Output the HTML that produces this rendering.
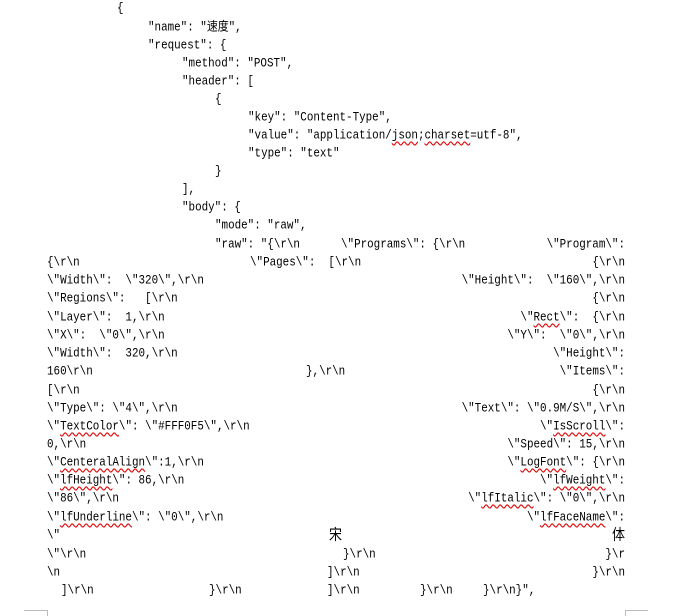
<!DOCTYPE html>
<html><head><meta charset="utf-8"><style>
html,body{margin:0;padding:0;background:#fff;}
body{width:696px;height:616px;position:relative;overflow:hidden;font-family:"Liberation Mono","Noto Sans CJK SC",monospace;font-size:10.9px;color:#000;}
.l{position:absolute;white-space:pre;line-height:14px;transform:scaleY(1.15);transform-origin:left center;}
.r{position:absolute;white-space:pre;line-height:14px;right:71px;text-align:right;transform:scaleY(1.15);transform-origin:right center;}
u{text-decoration:underline wavy #e00000;text-decoration-thickness:1px;text-underline-offset:2px;}
.c{position:absolute;background:#bbb;}
</style></head><body>
<div class="l" style="left:117px;top:2px">{</div>
<div class="l" style="left:148px;top:21px">"name": "速度",</div>
<div class="l" style="left:148px;top:39px">"request": {</div>
<div class="l" style="left:182px;top:57px">"method": "POST",</div>
<div class="l" style="left:182px;top:75px">"header": [</div>
<div class="l" style="left:215px;top:93px">{</div>
<div class="l" style="left:248px;top:111px">"key": "Content-Type",</div>
<div class="l" style="left:248px;top:129px">"value": "application/<u>json</u>;<u>charset</u>=utf-8",</div>
<div class="l" style="left:248px;top:147px">"type": "text"</div>
<div class="l" style="left:215px;top:165px">}</div>
<div class="l" style="left:182px;top:183px">],</div>
<div class="l" style="left:182px;top:201px">"body": {</div>
<div class="l" style="left:215px;top:219px">"mode": "raw",</div>
<div class="l" style="left:215px;top:238px">"raw": "{\r\n</div>
<div class="l" style="left:341px;top:238px">\"Programs\": {\r\n</div>
<div class="r" style="top:238px">\"Program\":</div>

<div class="l" style="left:47px;top:256px">{\r\n</div>
<div class="l" style="left:250px;top:256px">\"Pages\":  [\r\n</div>
<div class="r" style="top:256px">{\r\n</div>

<div class="l" style="left:47px;top:274px">\"Width\":  \"320\",\r\n</div>
<div class="r" style="top:274px">\"Height\":  \"160\",\r\n</div>

<div class="l" style="left:47px;top:292px">\"Regions\":   [\r\n</div>
<div class="r" style="top:292px">{\r\n</div>

<div class="l" style="left:47px;top:311px">\"Layer\":  1,\r\n</div>
<div class="r" style="top:311px">\"<u>Rect</u>\":  {\r\n</div>

<div class="l" style="left:47px;top:329px">\"X\":  \"0\",\r\n</div>
<div class="r" style="top:329px">\"Y\":  \"0\",\r\n</div>

<div class="l" style="left:47px;top:347px">\"Width\":  320,\r\n</div>
<div class="r" style="top:347px">\"Height\":</div>

<div class="l" style="left:47px;top:365px">160\r\n</div>
<div class="l" style="left:306px;top:365px">},\r\n</div>
<div class="r" style="top:365px">\"Items\":</div>

<div class="l" style="left:47px;top:384px">[\r\n</div>
<div class="r" style="top:384px">{\r\n</div>

<div class="l" style="left:47px;top:402px">\"Type\": \"4\",\r\n</div>
<div class="r" style="top:402px">\"Text\": \"0.9M/S\",\r\n</div>

<div class="l" style="left:47px;top:420px">\"<u>TextColor</u>\": \"#FFF0F5\",\r\n</div>
<div class="r" style="top:420px">\"<u>IsScroll</u>\":</div>

<div class="l" style="left:47px;top:438px">0,\r\n</div>
<div class="r" style="top:438px">\"Speed\": 15,\r\n</div>

<div class="l" style="left:47px;top:456px">\"<u>CenteralAlign</u>\":1,\r\n</div>
<div class="r" style="top:456px">\"<u>LogFont</u>\": {\r\n</div>

<div class="l" style="left:47px;top:474px">\"<u>lfHeight</u>\": 86,\r\n</div>
<div class="r" style="top:474px">\"<u>lfWeight</u>\":</div>

<div class="l" style="left:47px;top:492px">\"86\",\r\n</div>
<div class="r" style="top:492px">\"<u>lfItalic</u>\": \"0\",\r\n</div>

<div class="l" style="left:47px;top:511px">\"<u>lfUnderline</u>\": \"0\",\r\n</div>
<div class="r" style="top:511px">\"<u>lfFaceName</u>\":</div>

<div class="l" style="left:47px;top:529px">\"</div>
<div class="l" style="left:329px;top:529px;font-size:13px">宋</div>
<div class="r" style="top:529px;font-size:13px">体</div>

<div class="l" style="left:47px;top:548px">\"\r\n</div>
<div class="l" style="left:343px;top:548px">}\r\n</div>
<div class="r" style="top:548px">}\r</div>

<div class="l" style="left:47px;top:566px">\n</div>
<div class="l" style="left:327px;top:566px">]\r\n</div>
<div class="r" style="top:566px">}\r\n</div>

<div class="l" style="left:61px;top:584px">]\r\n</div>
<div class="l" style="left:209px;top:584px">}\r\n</div>
<div class="l" style="left:327px;top:584px">]\r\n</div>
<div class="l" style="left:420px;top:584px">}\r\n</div>
<div class="l" style="left:483px;top:584px">}\r\n}",</div>

<div class="c" style="left:24px;top:610px;width:23px;height:1px"></div>
<div class="c" style="left:47px;top:610px;width:1px;height:6px"></div>
<div class="c" style="left:625px;top:610px;width:23px;height:1px"></div>
<div class="c" style="left:625px;top:610px;width:1px;height:6px"></div>
</body></html>
